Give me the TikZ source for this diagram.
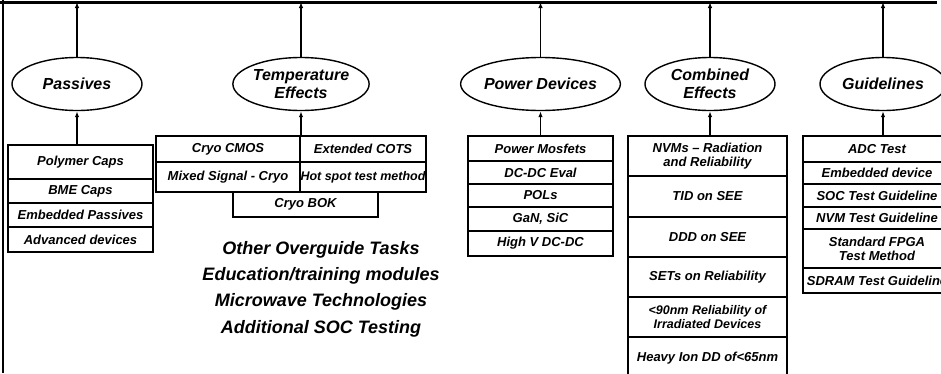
\documentclass[tikz,border=0pt]{standalone}
\usepackage{fontspec}
\setmainfont{Liberation Sans}
\usetikzlibrary{shapes.geometric,arrows.meta}
\begin{document}
\begin{tikzpicture}[x=1pt,y=-1pt,
  cell/.style={draw, line width=1.3pt, inner sep=0pt, align=center, font=\fontsize{13}{14}\selectfont\bfseries\itshape},
  oval/.style={ellipse, draw, line width=1.4pt, inner sep=0pt, minimum height=53pt, align=center, font=\fontsize{16}{17}\selectfont\bfseries\itshape},
  arr/.style={line width=1.3pt, -{Latex[length=6pt,width=4.5pt]}},
  big/.style={anchor=base, inner sep=0pt, font=\fontsize{18}{20}\selectfont\bfseries\itshape}]
\useasboundingbox (0,0) rectangle (941,373);
\clip (0,0) rectangle (941,373);
% frame lines
\coordinate (tlL) at (0,2);
\coordinate (tlR) at (937,2);
\coordinate (lT) at (3,0);
\coordinate (lB) at (3,373);
\draw[line width=3pt] (tlL) -- (tlR);
\draw[line width=2.5pt] (lT) -- (lB);
% ellipses
\node[oval, minimum width=130pt] (e1) at (77,84) {Passives};
\node[oval, minimum width=128pt] (e2) at (301,84) {Temperature\\[1pt]Effects};
\node[oval, minimum width=129pt] (e3) at (540.5,84) {Power Devices};
\node[oval, minimum width=130pt] (e4) at (710,84) {Combined\\[1pt]Effects};
\node[oval, minimum width=126pt] (e5) at (883,84) {Guidelines};
% Passives stack
\node[cell, minimum width=145pt, minimum height=34pt] (p1) at (80.5,162) {Polymer Caps};
\node[cell, minimum width=145pt, minimum height=24pt] (p2) at (80.5,191) {BME Caps};
\node[cell, minimum width=145pt, minimum height=24pt] (p3) at (80.5,215) {Embedded Passives};
\node[cell, minimum width=145pt, minimum height=25pt] (p4) at (80.5,239.5) {Advanced devices};
% Temperature grid
\node[cell, minimum width=144pt, minimum height=26pt] (t1) at (228,149) {Cryo CMOS};
\node[cell, minimum width=126pt, minimum height=26pt] (t2) at (363,149) {Extended COTS};
\node[cell, minimum width=144pt, minimum height=30pt] (t3) at (228,177) {Mixed Signal - Cryo};
\node[cell, minimum width=126pt, minimum height=30pt, font=\fontsize{12.5}{14}\selectfont\bfseries\itshape] (t4) at (363,177) {Hot spot test method};
\node[cell, minimum width=145pt, minimum height=25pt] (t5) at (305.5,204.5) {Cryo BOK};
% Power stack
\node[cell, minimum width=145pt, minimum height=25pt] (w1) at (540.5,148.5) {Power Mosfets};
\node[cell, minimum width=145pt, minimum height=23pt] (w2) at (540.5,172.5) {DC-DC Eval};
\node[cell, minimum width=145pt, minimum height=23pt] (w3) at (540.5,195.5) {POLs};
\node[cell, minimum width=145pt, minimum height=24pt] (w4) at (540.5,219) {GaN, SiC};
\node[cell, minimum width=145pt, minimum height=25pt] (w5) at (540.5,243.5) {High V DC-DC};
% Combined stack
\node[cell, minimum width=159pt, minimum height=40pt] (c1) at (707.5,156) {NVMs -- Radiation\\and Reliability};
\node[cell, minimum width=159pt, minimum height=41pt] (c2) at (707.5,196.5) {TID on SEE};
\node[cell, minimum width=159pt, minimum height=40pt] (c3) at (707.5,237) {DDD on SEE};
\node[cell, minimum width=159pt, minimum height=40pt] (c4) at (707.5,277) {SETs on Reliability};
\node[cell, minimum width=159pt, minimum height=40pt, font=\fontsize{12.5}{14}\selectfont\bfseries\itshape] (c5) at (707.5,317) {<90nm Reliability of\\Irradiated Devices};
\node[cell, minimum width=159pt, minimum height=43pt] (c6) at (707.5,358.5) {Heavy Ion DD of<65nm};
% Guidelines stack
\node[cell, minimum width=148pt, minimum height=26pt] (g1) at (877,149) {ADC Test};
\node[cell, minimum width=148pt, minimum height=22pt] (g2) at (877,173) {Embedded device};
\node[cell, minimum width=148pt, minimum height=23pt] (g3) at (877,195.5) {SOC Test Guideline};
\node[cell, minimum width=148pt, minimum height=22pt] (g4) at (877,218) {NVM Test Guideline};
\node[cell, minimum width=148pt, minimum height=39pt] (g5) at (877,248.5) {Standard FPGA\\Test Method};
\node[cell, minimum width=148pt, minimum height=25pt] (g6) at (877,280.5) {SDRAM Test Guideline};
% arrows up to top line
\draw[arr] (e1.north) -- (e1.north |- tlL);
\draw[arr] (e2.north) -- (e2.north |- tlL);
\draw[arr] (e3.north) -- (e3.north |- tlL);
\draw[arr] (e4.north) -- (e4.north |- tlL);
\draw[arr] (e5.north) -- (e5.north |- tlL);
% arrows from stacks to ellipses
\draw[arr] (e1.south |- p1.north) -- (e1.south);
\draw[arr] (e2.south |- t1.north) -- (e2.south);
\draw[arr] (e3.south |- w1.north) -- (e3.south);
\draw[arr] (e4.south |- c1.north) -- (e4.south);
\draw[arr] (e5.south |- g1.north) -- (e5.south);
% other tasks
\node[big] (o1) at (321,254) {Other Overguide Tasks};
\node[big] (o2) at (321,280.5) {Education/training modules};
\node[big] (o3) at (321,306.5) {Microwave Technologies};
\node[big] (o4) at (321,333) {Additional SOC Testing};
\end{tikzpicture}
\end{document}
